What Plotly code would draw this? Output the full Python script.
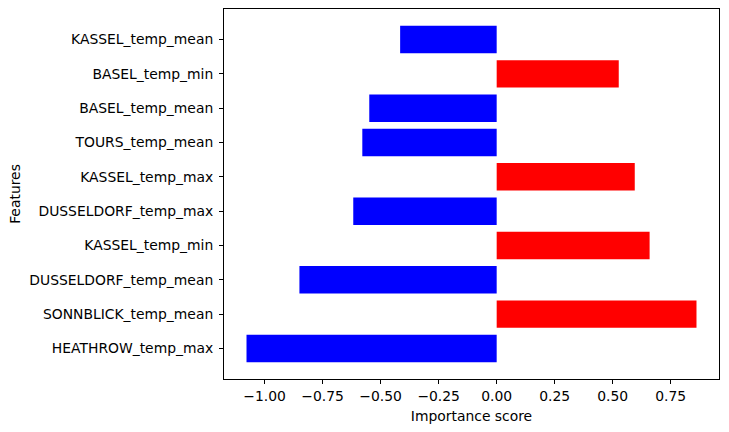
import plotly.graph_objects as go

features = ["HEATHROW_temp_max", "SONNBLICK_temp_mean", "DUSSELDORF_temp_mean",
            "KASSEL_temp_min", "DUSSELDORF_temp_max", "KASSEL_temp_max",
            "TOURS_temp_mean", "BASEL_temp_mean", "BASEL_temp_min", "KASSEL_temp_mean"]
scores = [-1.078, 0.861, -0.850, 0.659, -0.618, 0.595, -0.579, -0.549, 0.526, -0.416]
colors = ["red" if s > 0 else "blue" for s in scores]
x_ticks = [-1.0, -0.75, -0.5, -0.25, 0.0, 0.25, 0.5, 0.75]
x_tick_labels = ["\u22121.00", "\u22120.75", "\u22120.50", "\u22120.25", "0.00", "0.25", "0.50", "0.75"]

fig = go.Figure(go.Bar(
    x=scores, y=list(range(len(features))), orientation="h",
    marker=dict(color=colors, line=dict(width=0)), width=0.8,
))

font = dict(family="DejaVu Sans", size=13.9, color="black")
axis_common = dict(showline=True, linecolor="black", linewidth=1, mirror=True,
                   ticks="outside", ticklen=4, tickcolor="black", showgrid=False,
                   zeroline=False, tickfont=font)
fig.update_layout(
    width=729, height=432,
    margin=dict(l=224, r=10, t=9, b=53),
    plot_bgcolor="white", paper_bgcolor="white",
    showlegend=False, font=font,
    xaxis=dict(range=[-1.175, 0.958], tickvals=x_ticks, ticktext=x_tick_labels,
               title=dict(text="Importance score", font=font, standoff=8), **axis_common),
    yaxis=dict(range=[-0.89, 9.89], tickvals=list(range(len(features))), ticktext=features,
               ticklabelstandoff=3,
               title=dict(text="Features", font=font, standoff=5), **axis_common),
)
fig.write_html("out.html")
